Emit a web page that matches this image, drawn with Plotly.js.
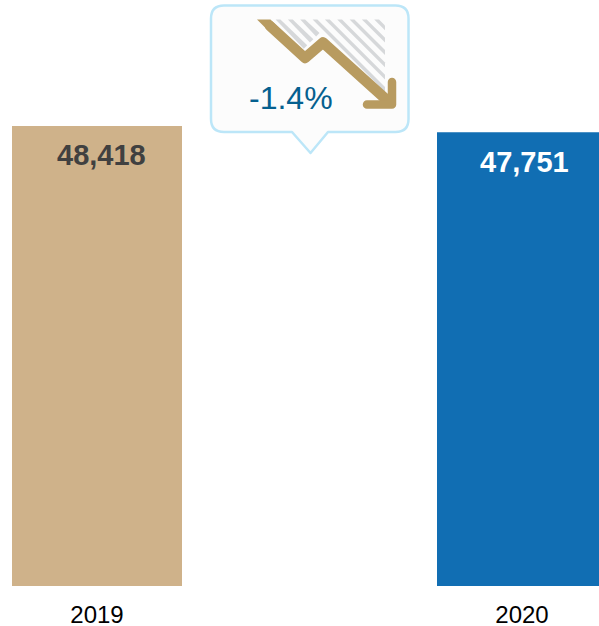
<!DOCTYPE html>
<html>
<head>
<meta charset="utf-8">
<script src="https://cdn.plot.ly/plotly-3.0.1.min.js"></script>
<style>html,body{margin:0;padding:0;background:#fff;overflow:hidden}#c{width:599px;height:626px}
.shapelayer path{stroke-linejoin:round;stroke-linecap:round}</style>
</head>
<body>
<div id="c"></div>
<script>
const years = [2019, 2020];
const values = [48418, 47751];
const barColors = ['#cfb28a', '#116eb3'];
const labelColors = ['#404040', '#ffffff'];
const changeText = '-1.4%';

const W = 599, H = 626, plotH = 586;
const px = x => x / W;
const py = y => 1 - y / plotH;
const path = (pts, close) => pts.map((p, i) => (i ? 'L' : 'M') + px(p[0]) + ',' + py(p[1])).join(' ') + (close ? ' Z' : '');
const paperShape = (extra) => Object.assign({xref: 'paper', yref: 'paper', layer: 'above'}, extra);

function roundedCallout() {
  const l = 211, r = 408.5, t = 5.5, b = 132, rad = 13;
  const P = (x, y) => px(x) + ',' + py(y);
  return 'M' + P(l + rad, t) + ' L' + P(r - rad, t) +
    ' Q' + P(r, t) + ' ' + P(r, t + rad) +
    ' L' + P(r, b - rad) + ' Q' + P(r, b) + ' ' + P(r - rad, b) +
    ' L' + P(328, b) + ' L' + P(310.5, 153) + ' L' + P(292, b) +
    ' L' + P(l + rad, b) + ' Q' + P(l, b) + ' ' + P(l, b - rad) +
    ' L' + P(l, t + rad) + ' Q' + P(l, t) + ' ' + P(l + rad, t) + ' Z';
}

const shapes = [paperShape({type: 'path', path: roundedCallout(),
  fillcolor: '#fcfcfc', line: {color: '#bce6f8', width: 2.5}})];

// pictogram hatch: filled stripes with flat cut at top and right
const hatchTop = 19.5, hatchRight = 385, hw = 2.4, noLine = {width: 0};
[278, 290.3, 302.6].forEach(sx => {
  const ex = (333 + sx) / 2, ey = hatchTop + ex - sx;
  shapes.push(paperShape({type: 'path', fillcolor: '#d6d8da', line: noLine,
    path: path([[sx - hw, hatchTop], [sx + hw, hatchTop], [ex + 1.7, ey - 1.7], [ex - 1.7, ey + 1.7]], true)}));
});
[315, 327.3, 339.6, 352, 364.3, 376.6].forEach(sx => {
  const d = hatchRight - sx;
  shapes.push(paperShape({type: 'path', fillcolor: '#d6d8da', line: noLine,
    path: path([[sx - hw, hatchTop], [sx + hw, hatchTop], [hatchRight, hatchTop + d - hw], [hatchRight, hatchTop + d + hw]], true)}));
});
// arrow
const tan = '#b89b60';
shapes.push(paperShape({type: 'path', fillcolor: tan, line: noLine,
  path: path([[257, 19.5], [270.5, 19.5], [279, 28], [265.5, 28]], true)}));
shapes.push(paperShape({type: 'path', path: path([[270, 26], [305, 58], [323, 42.5], [389, 102]]),
  line: {color: tan, width: 10.5}}));
shapes.push(paperShape({type: 'path', path: path([[392, 82], [392, 104.5], [367, 104.5]]),
  line: {color: tan, width: 8.5}}));

const annotations = years.map((yr, i) => ({
  x: yr, y: values[i], xref: 'x', yref: 'y',
  xshift: i === 0 ? 4 : 2.5, yshift: i === 0 ? -29 : -30,
  text: '<b>' + values[i].toLocaleString('en-US') + '</b>', showarrow: false,
  font: {family: 'Liberation Sans, Arial, sans-serif', size: 29, color: labelColors[i]}
}));
annotations.push({
  x: px(290.5), y: py(98), xref: 'paper', yref: 'paper', xanchor: 'center', yanchor: 'middle',
  text: changeText, showarrow: false,
  font: {family: 'Liberation Sans, Arial, sans-serif', size: 32, color: '#05608f'}
});

const pxPerYear = 425;
Plotly.newPlot('c', [{
  type: 'bar', x: years, y: values, width: 170 / pxPerYear,
  marker: {color: barColors, line: {width: 0}}, hoverinfo: 'skip'
}], {
  width: W, height: H, showlegend: false,
  margin: {l: 0, r: 0, t: 0, b: 40, pad: 0},
  paper_bgcolor: '#fff', plot_bgcolor: '#fff',
  xaxis: {range: [2019 - 97 / pxPerYear, 2019 + (W - 97) / pxPerYear], tickvals: years, ticktext: years.map(String),
    showgrid: false, zeroline: false, showline: false, ticks: '', ticklen: 0, ticklabelstandoff: 12,
    tickfont: {family: 'Liberation Sans, Arial, sans-serif', size: 24, color: '#000'}},
  yaxis: {range: [0, 48418 * plotH / 460], visible: false, showgrid: false, zeroline: false},
  shapes, annotations
}, {displayModeBar: false, staticPlot: true});
</script>
</body>
</html>
